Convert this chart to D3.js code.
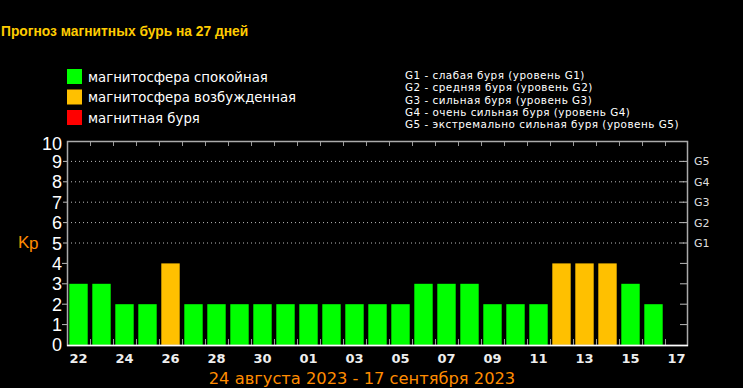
<!DOCTYPE html>
<html><head><meta charset="utf-8">
<script src="https://cdn.jsdelivr.net/npm/d3@7"></script>
<style>html,body{margin:0;padding:0;background:#000;overflow:hidden}</style>
</head><body>
<svg id="c" width="743" height="388"></svg>
<script>
const days = ["22","23","24","25","26","27","28","29","30","31","01","02","03","04","05","06","07","08","09","10","11","12","13","14","15","16","17"];
const kpValues = [3,3,2,2,4,2,2,2,2,2,2,2,2,2,2,3,3,3,2,2,2,4,4,4,3,2,null];
const yTicks = [0,1,2,3,4,5,6,7,8,9,10];
const gLevels = ["G1","G2","G3","G4","G5"];
const legendItems = ["магнитосфера спокойная","магнитосфера возбужденная","магнитная буря"];
const legendColors = ["#00ff00","#ffc000","#ff0000"];
const gDescriptions = ["G1 - слабая буря (уровень G1)","G2 - средняя буря (уровень G2)","G3 - сильная буря (уровень G3)","G4 - очень сильная буря (уровень G4)","G5 - экстремально сильная буря (уровень G5)"];
const title = "Прогноз магнитных бурь на 27 дней";
const dateRange = "24 августа 2023 - 17 сентября 2023";

const svg = d3.select("#c");
const L=67,R=688,T=141,B=345;
const x = d3.scaleBand().domain(days.map((d,i)=>i)).range([L,R]).paddingInner(0.2).paddingOuter(0.1);
const y = d3.scaleLinear().domain([0,10]).range([B,T]);
const color = v => v>=5 ? legendColors[2] : (v>=4 ? legendColors[1] : legendColors[0]);

svg.append("text").attr("x",1).attr("y",36).attr("fill","#ffcc00").attr("font-family","Liberation Sans, Arial").attr("font-weight","bold").attr("font-size",13.8).text(title);

// legend
legendItems.forEach((t,i)=>{
  svg.append("rect").attr("x",67).attr("y",69+i*20.5).attr("width",15).attr("height",15).attr("fill",legendColors[i]);
  svg.append("text").attr("x",88).attr("y",81.5+i*20.5).attr("fill","#fff").attr("font-family","DejaVu Sans").attr("font-size",13.3).text(t);
});
gDescriptions.forEach((t,i)=>{
  svg.append("text").attr("x",405).attr("y",79+i*12.3).attr("fill","#fff").attr("font-family","DejaVu Sans").attr("font-size",10.4).attr("letter-spacing",0.5).text(t);
});

// grid lines
[5,6,7,8,9].forEach(v=>{
  svg.append("line").attr("x1",L).attr("x2",R).attr("y1",y(v)).attr("y2",y(v)).attr("stroke","#bbb").attr("stroke-dasharray","1,3");
  svg.append("line").attr("x1",R-8).attr("x2",R).attr("y1",y(v)).attr("y2",y(v)).attr("stroke","#bbb");
  svg.append("line").attr("x1",L-4).attr("x2",L).attr("y1",y(v)).attr("y2",y(v)).attr("stroke","#bbb");
});
[1,2,3,4].forEach(v=>{
  svg.append("line").attr("x1",L-5).attr("x2",L).attr("y1",y(v)).attr("y2",y(v)).attr("stroke","#bbb");
  svg.append("line").attr("x1",R-8).attr("x2",R).attr("y1",y(v)).attr("y2",y(v)).attr("stroke","#bbb");
});

// bars
svg.selectAll("rect.bar").data(kpValues.map((v,i)=>({v,i})).filter(d=>d.v!=null)).enter().append("rect")
  .attr("class","bar").attr("x",d=>x(d.i)).attr("width",x.bandwidth())
  .attr("y",d=>y(d.v)).attr("height",d=>B-y(d.v)).attr("fill",d=>color(d.v));

// band boundary ticks
const step = x.step();
for(let i=1;i<days.length;i++){
  const bx = Math.round(x(i)-step*0.1)+0.5;
  svg.append("line").attr("x1",bx).attr("x2",bx).attr("y1",B).attr("y2",B-6).attr("stroke","#999");
  svg.append("line").attr("x1",bx).attr("x2",bx).attr("y1",T).attr("y2",T+5).attr("stroke","#999");
}

// frame
svg.append("rect").attr("x",L+0.5).attr("y",T+0.5).attr("width",R-L-1).attr("height",B-T).attr("fill","none").attr("stroke","#aaa").attr("stroke-width",1.5);
svg.append("line").attr("x1",L).attr("x2",R).attr("y1",B+0.5).attr("y2",B+0.5).attr("stroke","#fff").attr("stroke-width",1.5);

// y labels
yTicks.forEach(v=>{
  const off = v===0 ? 5.5 : (v===10 ? 8.5 : 6.5);
  svg.append("text").attr("x",62).attr("y",y(v)+off).attr("text-anchor","end").attr("fill","#fff").attr("font-family","Liberation Sans, Arial").attr("font-size",18).text(v);
});
gLevels.forEach((g,i)=>{
  svg.append("text").attr("x",694).attr("y",y(i+5)+4).attr("fill","#ddd").attr("font-family","DejaVu Sans").attr("font-size",11).text(g);
});
svg.append("text").attr("x",18).attr("y",248).attr("fill","#ff8c00").attr("font-family","Liberation Sans, Arial").attr("font-size",17).text("K");
svg.append("text").attr("x",29).attr("y",249).attr("fill","#ff8c00").attr("font-family","Liberation Sans, Arial").attr("font-size",17).text("p");

// x labels
days.forEach((d,i)=>{
  if(i%2===0) svg.append("text").attr("x",x(i)+x.bandwidth()/2).attr("y",363).attr("text-anchor","middle").attr("fill","#eee").attr("font-family","DejaVu Sans").attr("font-weight","bold").attr("font-size",13).text(d);
});
svg.append("text").attr("x",362).attr("y",384).attr("text-anchor","middle").attr("fill","#ff8c00").attr("font-family","DejaVu Sans").attr("font-size",16.3).text(dateRange);
</script>
</body></html>
